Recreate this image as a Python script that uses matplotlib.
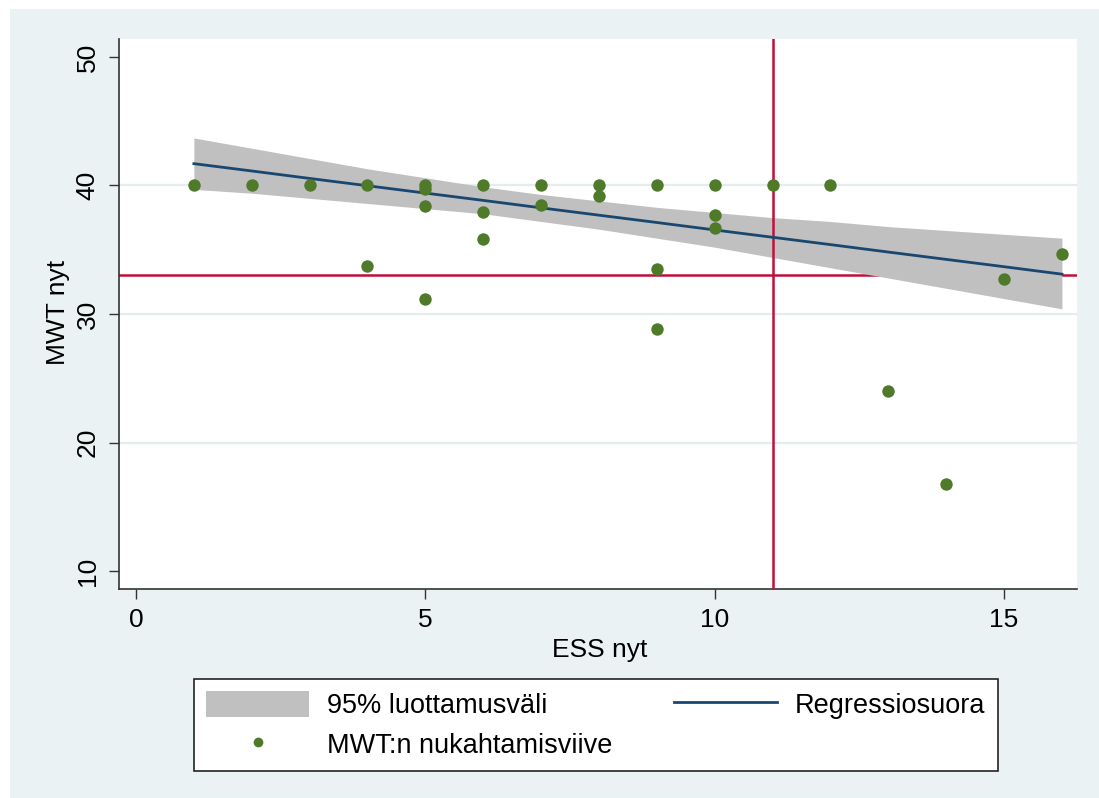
import matplotlib
matplotlib.use("Agg")
import matplotlib.pyplot as plt
from matplotlib.patches import Rectangle, Patch
from matplotlib.lines import Line2D

# ---- data ----
ess = [1, 2, 3, 4, 4, 5, 5, 5, 5, 6, 6, 6, 7, 7, 8, 8, 9, 9, 9,
       10, 10, 10, 11, 12, 13, 14, 15, 16]
mwt = [40, 40, 40, 40, 33.7, 40, 39.7, 38.4, 31.2, 40, 37.9, 35.8, 40, 38.5,
       40, 39.2, 40, 33.5, 28.8, 40, 37.7, 36.7, 40, 40, 24.0, 16.75, 32.7, 34.7]

fit_x = [1, 2, 3, 4, 5, 6, 7, 8, 9, 10, 11, 12, 13, 14, 15, 16]
fit_y = [41.70, 41.13, 40.55, 39.98, 39.41, 38.84, 38.26, 37.69, 37.12,
         36.54, 35.97, 35.40, 34.82, 34.25, 33.68, 33.10]
ci_hi = [43.7, 42.9, 42.1, 41.3, 40.6, 39.9, 39.3, 38.8, 38.3, 37.9, 37.5,
         37.2, 36.8, 36.5, 36.2, 35.9]
ci_lo = [39.7, 39.4, 39.0, 38.6, 38.2, 37.8, 37.2, 36.6, 35.9, 35.2, 34.4,
         33.6, 32.8, 32.0, 31.2, 30.4]

ref_x = 11
ref_y = 33

x_ticks = [0, 5, 10, 15]
y_ticks = [10, 20, 30, 40, 50]
grid_y = [20, 30, 40]

x_label = "ESS nyt"
y_label = "MWT nyt"
lab_ci = "95% luottamusväli"
lab_fit = "Regressiosuora"
lab_pts = "MWT:n nukahtamisviive"

# ---- style ----
plt.rcParams['font.family'] = ['Liberation Sans', 'DejaVu Sans']
BG = "#EAF2F3"
GRID = "#E3EDEF"
PT = "#4E7A2A"
LINE = "#1A476F"
BAND = "#C0C0C0"
RED = "#C0103A"
FS = 19

W, H = 1099, 798
fig = plt.figure(figsize=(W / 100, H / 100), dpi=100, facecolor="white")
fig.patches.append(Rectangle((10 / W, 0), 1 - 10 / W, 1 - 9 / H,
                             transform=fig.transFigure, facecolor=BG,
                             edgecolor="none", zorder=-10))

ax = fig.add_axes([119 / W, 1 - 589 / H, (1077 - 119) / W, (589 - 39) / H])
ax.set_facecolor("white")
ax.set_xlim(-0.294, 16.26)
ax.set_ylim(8.6, 51.4)

for g in grid_y:
    ax.axhline(g, color=GRID, lw=1.6, zorder=0.5)

ax.axhline(ref_y, color=RED, lw=1.8, zorder=1)
ax.fill_between(fit_x, ci_lo, ci_hi, color=BAND, lw=0, zorder=2)
ax.axvline(ref_x, color=RED, lw=1.8, zorder=3)
ax.plot(fit_x, fit_y, color=LINE, lw=2, zorder=4)
ax.scatter(ess, mwt, s=80, color=PT, zorder=5, linewidths=0)

for s in ["top", "right"]:
    ax.spines[s].set_visible(False)
for s in ["left", "bottom"]:
    ax.spines[s].set_color("#333333")
    ax.spines[s].set_linewidth(1.2)

ax.set_xticks(x_ticks)
ax.set_yticks(y_ticks)
ax.tick_params(axis="both", direction="out", length=7, width=1,
               color="#333333", labelsize=FS, pad=7)
for lbl in ax.get_yticklabels():
    lbl.set_rotation(90)
    lbl.set_va("center")

fig.text(600 / W, 1 - 650 / H, x_label, ha="center", va="center", fontsize=FS)
fig.text(58 / W, 1 - 312 / H, y_label, ha="center", va="center",
         fontsize=FS, rotation=90)

h_ci = Patch(facecolor=BAND, edgecolor="none")
h_pts = Line2D([], [], marker="o", ls="none", color=PT, markersize=7,
               markeredgewidth=0)
h_fit = Line2D([], [], color=LINE, lw=2)
leg = fig.legend([h_ci, h_pts, h_fit], [lab_ci, lab_pts, lab_fit],
                 ncol=2, loc="upper left",
                 bbox_to_anchor=(194 / W, 1 - 679 / H),
                 bbox_transform=fig.transFigure,
                 fontsize=19.5, frameon=True, fancybox=False,
                 edgecolor="#222222", facecolor="white", framealpha=1,
                 handlelength=3.8, handleheight=1.1, handletextpad=0.65,
                 borderpad=0.45, labelspacing=0.42, columnspacing=2.3,
                 borderaxespad=0)
leg.get_frame().set_linewidth(1.2)

fig.savefig("out.png", dpi=100, facecolor=fig.get_facecolor())
